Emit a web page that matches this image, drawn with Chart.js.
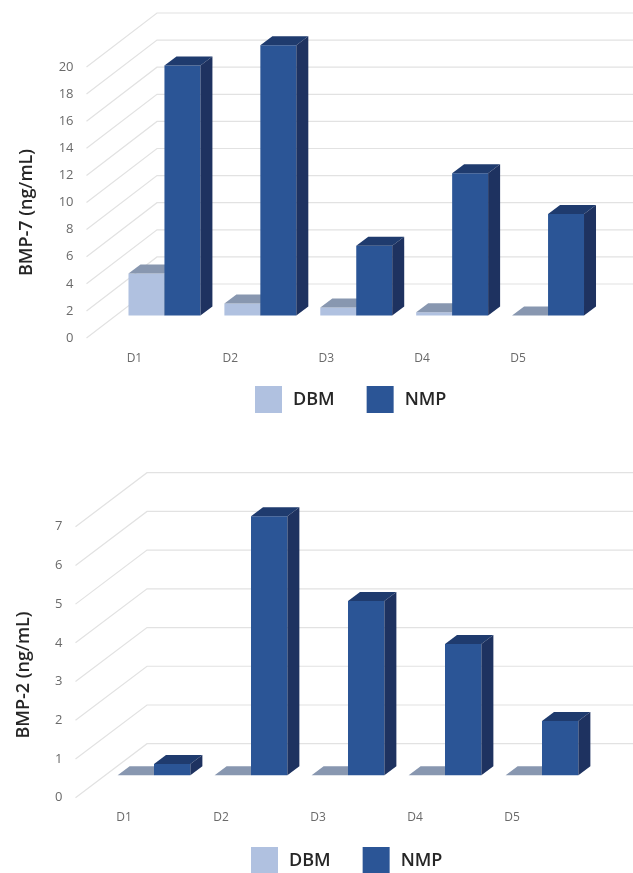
<!DOCTYPE html>
<html>
<head>
<meta charset="utf-8">
<title>BMP-7 / BMP-2</title>
<script src="https://cdn.jsdelivr.net/npm/chart.js@4"></script>
<style>
html,body{margin:0;padding:0;background:#fff;width:633px;height:873px;overflow:hidden;}
canvas{position:absolute;left:0;}
</style>
</head>
<body>
<canvas id="chartBmp7" style="top:0" width="633" height="440"></canvas>
<canvas id="chartBmp2" style="top:440px" width="633" height="470"></canvas>
<script>
var categories = ["D1","D2","D3","D4","D5"];
var seriesNames = ["DBM","NMP"];
var bmp7Dbm = [3.1,0.9,0.6,0.25,0];
var bmp7Nmp = [18.45,19.95,5.15,10.5,7.5];
var bmp2Dbm = [0,0,0,0,0];
var bmp2Nmp = [0.29,6.69,4.5,3.39,1.4];

var fontName = "'Open Sans', sans-serif";
var dbmColors = {front:"#b0c1e0",top:"#8897b0",side:"#8897b0"};
var nmpColors = {front:"#2b5596",top:"#1f3b6e",side:"#1e3260"};
var legendGap = 30;

function drawFaces(ctx,bar,colors){
	var l = bar.x-bar.width/2, r = bar.x+bar.width/2;
	ctx.fillStyle = colors.top;
	ctx.beginPath();
	ctx.moveTo(l,bar.y);
	ctx.lineTo(l+12,bar.y-9);
	ctx.lineTo(r+12,bar.y-9);
	ctx.lineTo(r,bar.y);
	ctx.closePath();
	ctx.fill();
	ctx.fillStyle = colors.side;
	ctx.beginPath();
	ctx.moveTo(r,bar.y);
	ctx.lineTo(r+12,bar.y-9);
	ctx.lineTo(r+12,bar.base-9);
	ctx.lineTo(r,bar.base);
	ctx.closePath();
	ctx.fill();
}

// 3d look: side walls, shifted bars, and the top and side faces
var walls3d = {
	id:"walls3d",
	afterLayout:function(chart){
		var o = chart.options.plugins.walls3d;
		chart.legend.left = o.legendX - legendGap;
		chart.legend.right = 633;
		chart.legend.top = o.legendY - legendGap;
	},
	beforeDatasetsDraw:function(chart){
		var o = chart.options.plugins.walls3d;
		var ctx = chart.ctx;
		var y = chart.scales.y;
		ctx.save();
		ctx.strokeStyle = "#e2e2e2";
		ctx.lineWidth = 1.2;
		y.ticks.forEach(function(t){
			var py = y.getPixelForValue(t.value);
			ctx.beginPath();
			ctx.moveTo(chart.chartArea.left,py);
			ctx.lineTo(chart.chartArea.left+o.wallX,py-o.wallY);
			ctx.lineTo(chart.width,py-o.wallY);
			ctx.stroke();
		});
		ctx.restore();
		// DBM first so the NMP bars sit in front of its top face
		ctx.save();
		ctx.translate(30,-22.4);
		chart.data.datasets.forEach(function(ds,i){
			var meta = chart.getDatasetMeta(i);
			meta.controller.draw();
			meta.data.forEach(function(bar){
				drawFaces(ctx,bar,ds.faces);
			});
		});
		ctx.restore();
	},
	beforeDatasetDraw:function(){
		return false;
	},
	afterDraw:function(chart){
		var o = chart.options.plugins.walls3d;
		var ctx = chart.ctx;
		ctx.save();
		ctx.translate(o.titleX,o.titleY);
		ctx.rotate(-Math.PI/2);
		ctx.font = "600 18px "+fontName;
		ctx.fillStyle = "#262626";
		ctx.textAlign = "center";
		ctx.textBaseline = "middle";
		ctx.fillText(o.title,0,0);
		ctx.restore();
	}
};

function makeChart(id,dbm,nmp,yMax,yStep,o){
	var ctx = document.getElementById(id).getContext("2d");
	return new Chart(ctx,{
		type:"bar",
		plugins:[walls3d],
		data:{
			labels:categories,
			datasets:[
				{label:seriesNames[0],data:dbm,backgroundColor:dbmColors.front,faces:dbmColors,categoryPercentage:0.75,barPercentage:1},
				{label:seriesNames[1],data:nmp,backgroundColor:nmpColors.front,faces:nmpColors,categoryPercentage:0.75,barPercentage:1}
			]
		},
		options:{
			responsive:false,
			animation:false,
			devicePixelRatio:1,
			layout:{padding:{left:0,right:o.right,top:o.top,bottom:0}},
			scales:{
				x:{
					grid:{display:false},
					border:{display:false},
					ticks:{color:"#6a6a6a",font:{family:fontName,size:12},padding:5},
					afterFit:function(s){s.height=o.xHeight;}
				},
				y:{
					min:0,max:yMax,
					grid:{display:false},
					border:{display:false},
					ticks:{stepSize:yStep,color:"#6a6a6a",font:{family:fontName,size:13},padding:5},
					afterFit:function(s){s.width=o.left;}
				}
			},
			plugins:{
				tooltip:{enabled:false},
				legend:{
					position:"bottom",
					align:"start",
					labels:{
						boxWidth:31,boxHeight:31,padding:legendGap,color:"#262626",
						font:{family:fontName,size:18,weight:"600"},
						// white edge trims the box to 27px and leaves the wider gap before the text
						generateLabels:function(chart){
							return Chart.defaults.plugins.legend.labels.generateLabels(chart).map(function(item){
								item.strokeStyle = "#fff";
								item.lineWidth = 4;
								return item;
							});
						}
					}
				},
				walls3d:o
			}
		}
	});
}

makeChart("chartBmp7",bmp7Dbm,bmp7Nmp,20,2,{
	left:86.5,right:67,top:67,xHeight:31,
	wallX:70.5,wallY:54,
	title:"BMP-7 (ng/mL)",titleX:27,titleY:212.5,
	legendX:253,legendY:384
});
makeChart("chartBmp2",bmp2Dbm,bmp2Nmp,7,1,{
	left:75.5,right:72.5,top:86.7,xHeight:41.3,
	wallX:71.5,wallY:54,
	title:"BMP-2 (ng/mL)",titleX:24,titleY:235,
	legendX:249,legendY:405
});
</script>
</body>
</html>
